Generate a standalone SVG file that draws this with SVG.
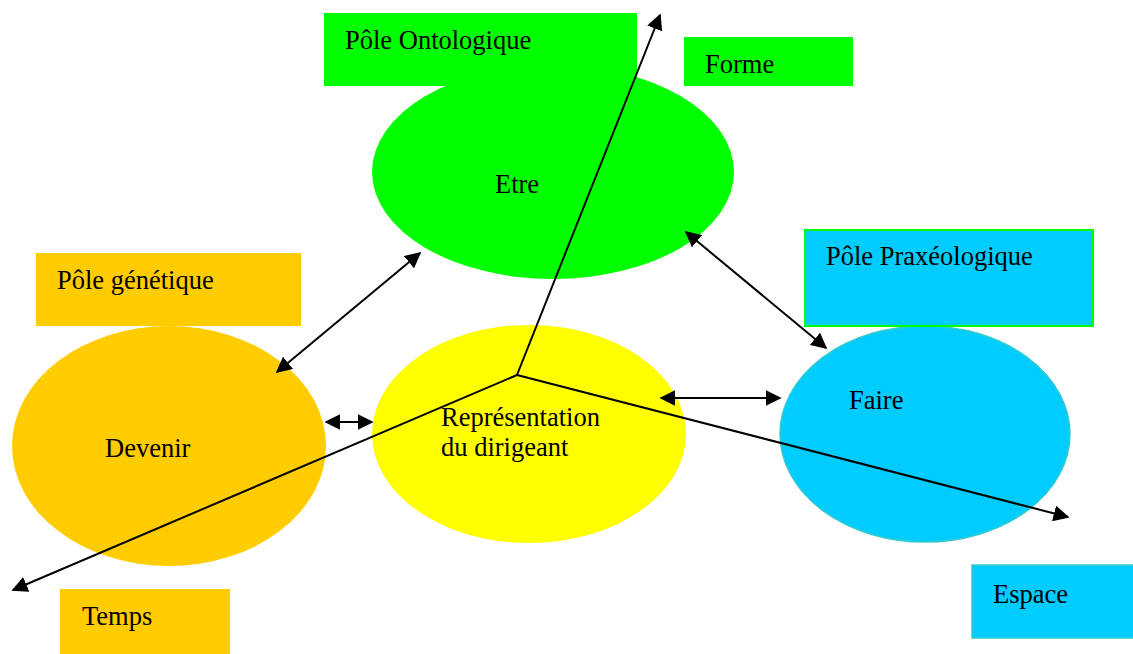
<svg xmlns="http://www.w3.org/2000/svg" width="1133" height="654" viewBox="0 0 1133 654">
<style>
text{font-family:"Liberation Serif","Times New Roman",serif;font-size:26.5px;fill:#000}
.ln{stroke:#000;stroke-width:2;fill:none}
</style>
<defs>
<marker id="ah" viewBox="0 0 10 10" refX="9" refY="5" markerWidth="16" markerHeight="16" markerUnits="userSpaceOnUse" orient="auto-start-reverse">
<path d="M0,0 L10,5 L0,10 z" fill="#000"/>
</marker>
</defs>
<rect width="1133" height="654" fill="#fff"/>
<g id="etre">
<ellipse cx="553" cy="172" rx="181" ry="107" fill="#00FF00"/>
<text x="495" y="193">Etre</text>
</g>
<g id="devenir">
<ellipse cx="169" cy="446" rx="157" ry="120" fill="#FFCC00"/>
<text x="105" y="457">Devenir</text>
</g>
<g id="representation">
<ellipse cx="529" cy="434" rx="157" ry="109" fill="#FFFF00"/>
<text x="441" y="426">Représentation</text>
<text x="441" y="456">du dirigeant</text>
</g>
<g id="faire">
<ellipse cx="925" cy="434" rx="145" ry="108" fill="#00CCFF" stroke="#33CCCC" stroke-width="1.5"/>
<text x="849" y="409">Faire</text>
</g>
<g id="pole-ontologique">
<rect x="324" y="13" width="313" height="73" fill="#00FF00"/>
<text x="345" y="49">Pôle Ontologique</text>
</g>
<g id="forme">
<rect x="684" y="37" width="169" height="49" fill="#00FF00"/>
<text x="705" y="73">Forme</text>
</g>
<g id="pole-genetique">
<rect x="36" y="253" width="265" height="73" fill="#FFCC00"/>
<text x="57" y="289">Pôle génétique</text>
</g>
<g id="pole-praxeologique">
<rect x="805" y="230" width="288" height="96" fill="#00CCFF" stroke="#00FF00" stroke-width="2"/>
<text x="826" y="265">Pôle Praxéologique</text>
</g>
<g id="temps">
<rect x="60" y="589" width="170" height="65" fill="#FFCC00"/>
<text x="82" y="625">Temps</text>
</g>
<g id="espace">
<rect x="972" y="565" width="165" height="73" fill="#00CCFF" stroke="#33CCCC" stroke-width="1.5"/>
<text x="993" y="603">Espace</text>
</g>
<g id="connectors">
<line class="ln" x1="517" y1="375" x2="660" y2="15" marker-end="url(#ah)"/>
<line class="ln" x1="517" y1="375" x2="1068" y2="517" marker-end="url(#ah)"/>
<line class="ln" x1="517" y1="375" x2="13" y2="590" marker-end="url(#ah)"/>
<line class="ln" x1="277" y1="372" x2="420" y2="253" marker-start="url(#ah)" marker-end="url(#ah)"/>
<line class="ln" x1="686" y1="232" x2="826" y2="348" marker-start="url(#ah)" marker-end="url(#ah)"/>
<line class="ln" x1="326" y1="422" x2="372" y2="422" marker-start="url(#ah)" marker-end="url(#ah)"/>
<line class="ln" x1="661" y1="398" x2="780" y2="398" marker-start="url(#ah)" marker-end="url(#ah)"/>
</g>
</svg>
